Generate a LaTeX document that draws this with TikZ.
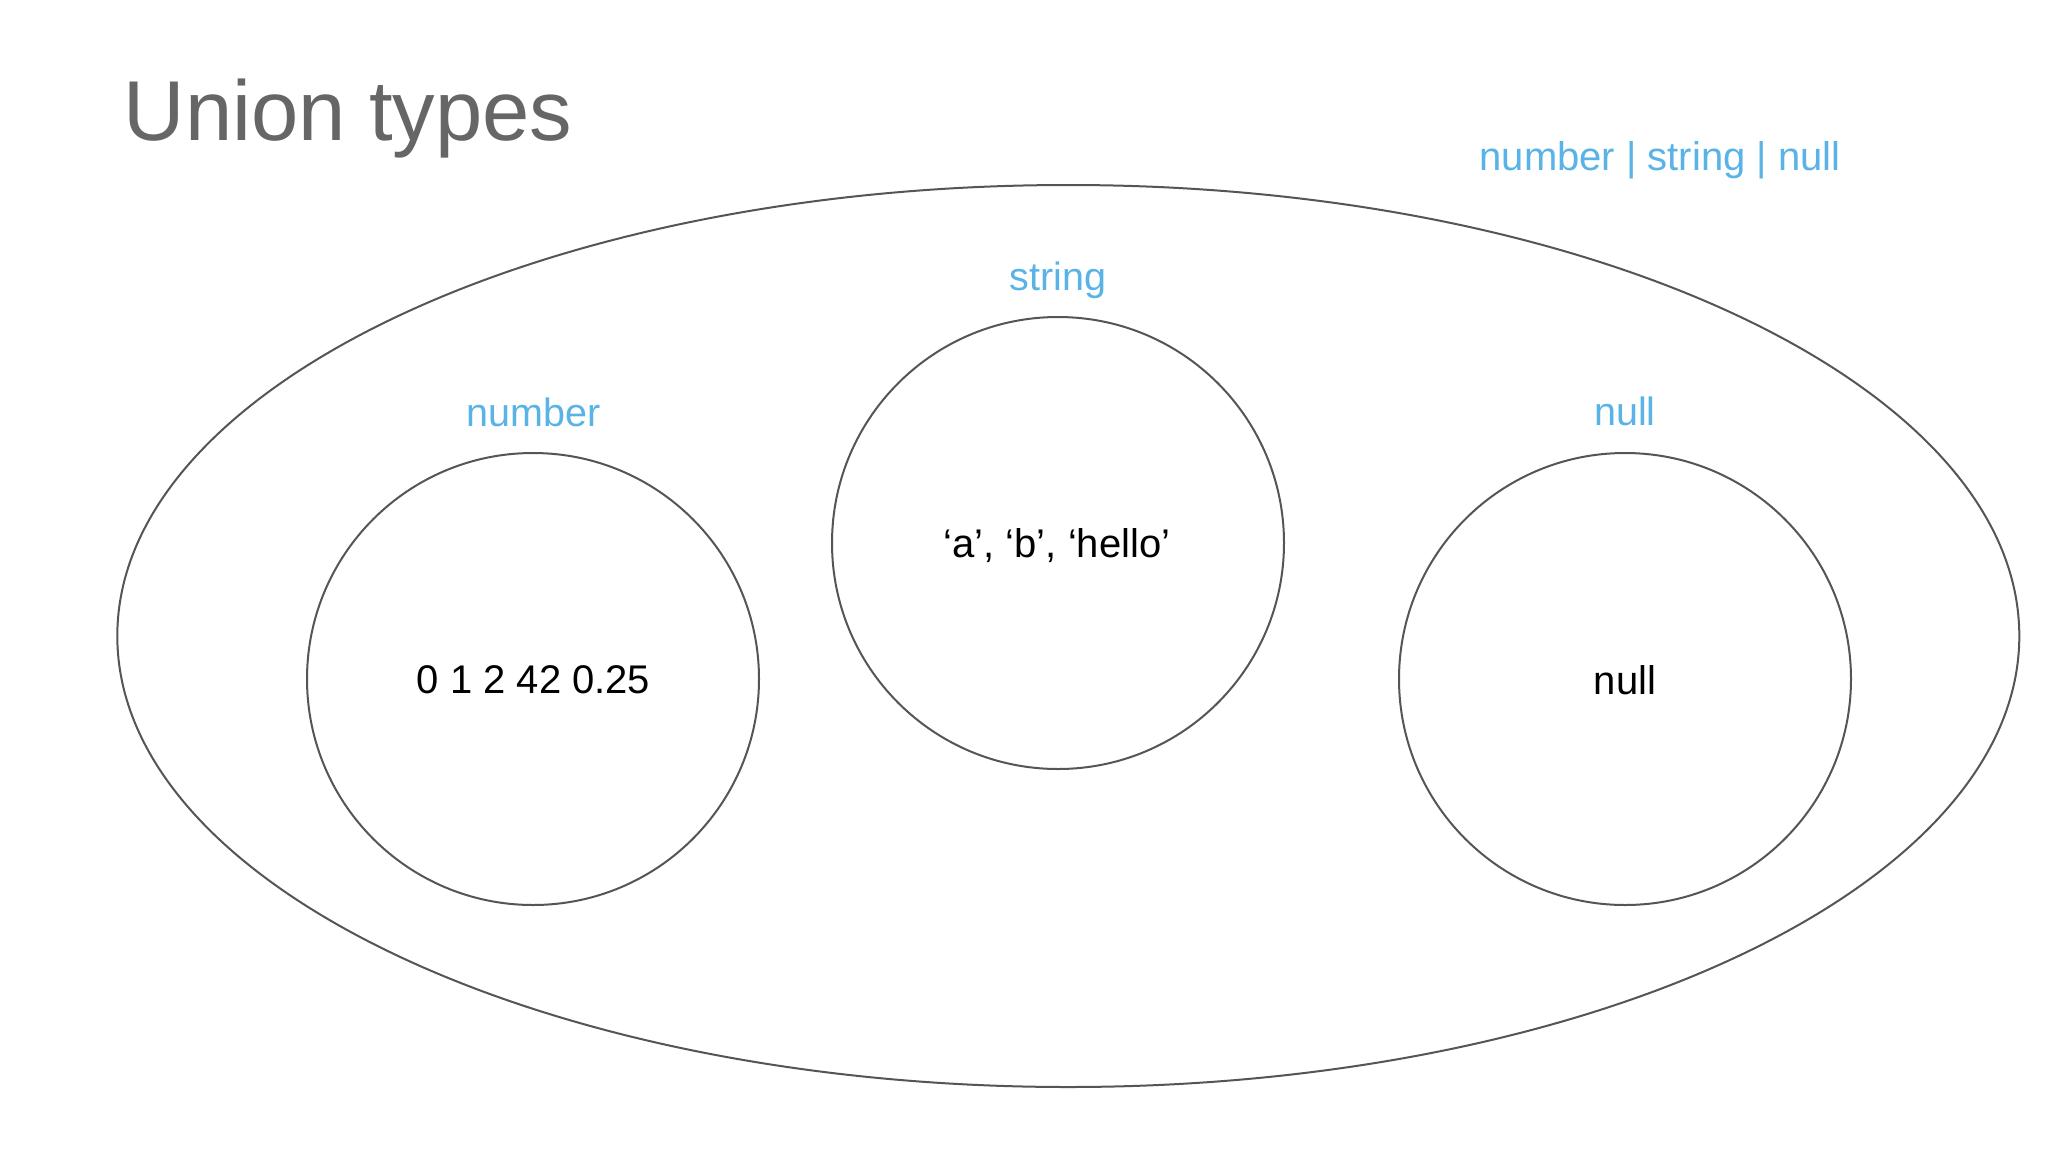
\documentclass[tikz,border=0pt]{standalone}
\usepackage{fontspec}
\usetikzlibrary{shapes.geometric}
\setmainfont{Liberation Sans}
\definecolor{titlegray}{HTML}{666666}
\definecolor{linegray}{HTML}{555555}
\definecolor{typeblue}{HTML}{5AB3E6}
\begin{document}
\begin{tikzpicture}[x=1pt,y=-1pt,
  outline/.style={draw=linegray, line width=2pt},
  setcircle/.style={outline, circle, minimum size=452pt, inner sep=0pt},
  typelabel/.style={text=typeblue, font=\fontsize{39.5}{47}\selectfont, anchor=base, inner sep=0pt},
  valuetext/.style={text=black, font=\fontsize{40}{48}\selectfont, anchor=base, inner sep=0pt}]
\useasboundingbox[fill=white] (0,0) rectangle (2048,1152);
\node[anchor=base west, inner sep=0pt, text=titlegray, font=\fontsize{85}{100}\selectfont] (title) at (123.5,140.7) {Union types};
\node[outline, ellipse, minimum width=1902pt, minimum height=902pt, inner sep=0pt] (union) at (1068.3,636) {};
\node[typelabel, font=\fontsize{40}{48}\selectfont] (unionlabel) at (1660,170) {number | string | null};
\node[setcircle] (numc) at (533,679) {};
\node[setcircle] (strc) at (1058,543) {};
\node[setcircle] (nullc) at (1625,679) {};
\node[typelabel] (numlabel) at (533.5,426) {number};
\node[typelabel] (strlabel) at (1058,290.7) {string};
\node[typelabel] (nulllabel) at (1625,425.5) {null};
\node[valuetext] (numvals) at (533.5,693.3) {0 1 2 42 0.25};
\node[valuetext] (strvals) at (1057,557.3) {‘a’, ‘b’, ‘hello’};
\node[valuetext] (nullvals) at (1625,694) {null};
\end{tikzpicture}
\end{document}
